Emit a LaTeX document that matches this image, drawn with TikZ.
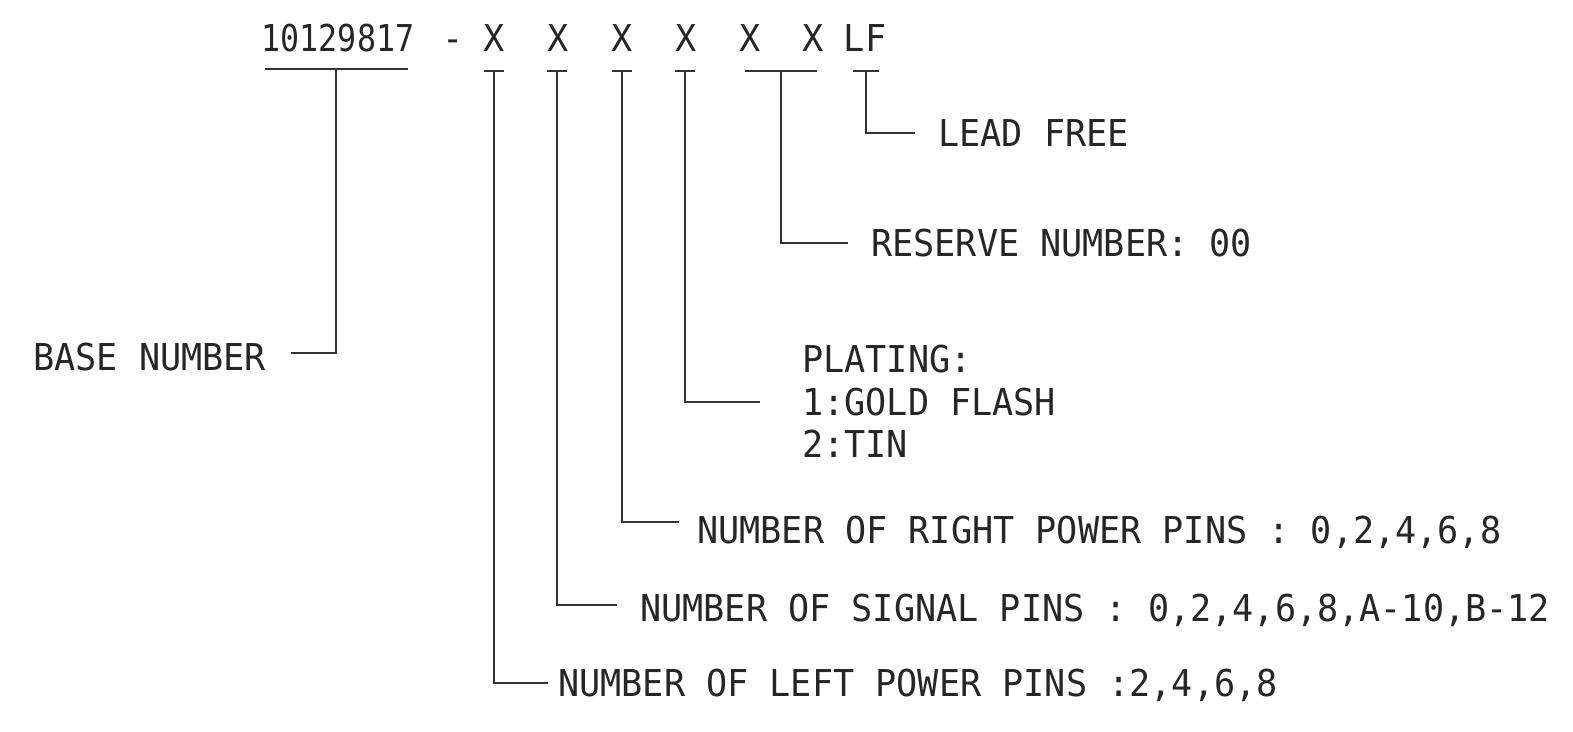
\documentclass[tikz,border=0pt]{standalone}
\usepackage{fontspec}
\newfontfamily\cad[FakeStretch=0.95]{DejaVu Sans Mono}
\begin{document}
\begin{tikzpicture}[x=1pt,y=-1pt,
  lbl/.style={inner sep=0pt,anchor=base west,font=\cad\fontsize{37}{42.5}\selectfont,text=black!85},
  top/.style={inner sep=0pt,anchor=base,font=\cad\fontsize{37}{42.5}\selectfont,text=black!85},
  ln/.style={line width=1.6pt,black!80}]
\useasboundingbox[fill=white] (0,0) rectangle (1573,731);
% top code
\node[top,xscale=0.9] (code) at (338,51) {10129817};
\node[top] (dash) at (453,51) {-};
\node[top] (x1) at (494,51) {X};
\node[top] (x2) at (558,51) {X};
\node[top] (x3) at (622,51) {X};
\node[top] (x4) at (686,51) {X};
\node[top] (x5) at (750,51) {X};
\node[top] (x6) at (813,51) {X};
\node[top] (lf) at (865,51) {LF};
% T bars
\draw[ln] (265,69) -- (408,69);
\coordinate (t0) at (336,69);
\foreach \c/\w [count=\i] in {494/10,557/10,622/10,685/10,781/36,866/13}{
  \draw[ln] (\c-\w,71) -- (\c+\w,71);
  \coordinate (t\i) at (\c,71);
}
% labels
\node[lbl] (base) at (33,370) {BASE NUMBER};
\node[lbl] (lead) at (938,146) {LEAD FREE};
\node[lbl] (res) at (871,256) {RESERVE NUMBER: 00};
\node[lbl,align=left,anchor=north west] (plat) at (802,345) {PLATING:\\1:GOLD FLASH\\2:TIN};
\node[lbl] (right) at (697,543) {NUMBER OF RIGHT POWER PINS : 0,2,4,6,8};
\node[lbl] (sig) at (640,621) {NUMBER OF SIGNAL PINS : 0,2,4,6,8,A-10,B-12};
\node[lbl] (left) at (558,696) {NUMBER OF LEFT POWER PINS :2,4,6,8};
% connector ends
\coordinate (e0) at (291,353);
\coordinate (e1) at (548,683);
\coordinate (e2) at (617,605);
\coordinate (e3) at (679,522);
\coordinate (e4) at (760,402);
\coordinate (e5) at (848,243);
\coordinate (e6) at (915,133);
\draw[ln] (t0) -- (t0 |- e0) -- (e0);
\foreach \i in {1,...,6}{
  \draw[ln] (t\i) -- (t\i |- e\i) -- (e\i);
}
\end{tikzpicture}
\end{document}
